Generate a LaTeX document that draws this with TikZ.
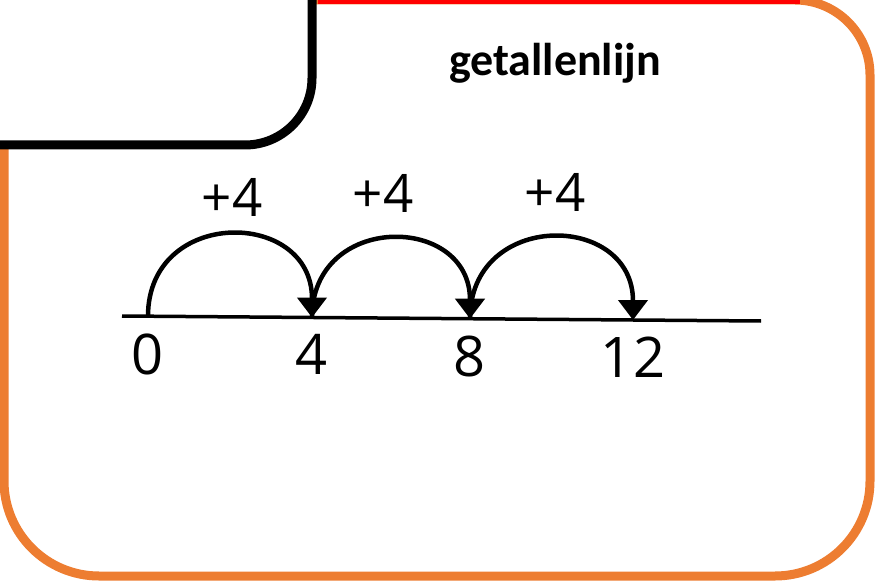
\documentclass[tikz,border=0pt]{standalone}
\usepackage{fontspec}
\usepackage{xcolor}
\usetikzlibrary{positioning,arrows.meta}
\newfontfamily\numfont{Open Sans}
\newfontfamily\titlefont{Carlito}
\definecolor{boxorange}{HTML}{ED7D31}
\tikzset{>={Triangle[width=29pt,length=20pt]}}

\begin{document}
\begin{tikzpicture}[x=1pt,y=-1pt,
    frame/.style={draw=boxorange,line width=9pt},
    topline/.style={draw=red,line width=9pt},
    tab/.style={draw=black,line width=9pt,fill=white},
    axis/.style={draw,line width=3.5pt},
    jump/.style={draw,line width=4.5pt,->},
    num/.style={inner sep=0pt,font=\numfont\fontsize{56}{60}\selectfont},
    jumplabel/.style={inner sep=0pt,font=\numfont\fontsize{53}{56}\selectfont},
    heading/.style={inner sep=0pt,font=\titlefont\bfseries\fontsize{46}{50}\selectfont}
  ]
      \useasboundingbox (0,0) rectangle (885,585);

      \draw[frame] (4,140) -- (4,481) arc[start angle=180,end angle=90,radius=95]
        -- (775,576) arc[start angle=90,end angle=0,radius=95]
        -- (870,75) arc[start angle=0,end angle=-90,radius=75] -- (300,0);
      \draw[topline] (318,0) -- (800,0);
      \draw[tab] (-10,-10) -- (312,-10) -- (312,78)
        arc[start angle=0,end angle=90,radius=67] -- (-10,145) -- cycle;

      \node [heading] (title) at (555,63) {getallenlijn};

      \coordinate (start) at (122,316);
      \coordinate (stop) at (761,321);
      \coordinate (n0) at (148,316.2);
      \coordinate (n4) at (312,317.5);
      \coordinate (n8) at (470,318.7);
      \coordinate (n12) at (633,320);

      \draw[axis] (start) -- (stop);

      \node [num,
        below=17pt of n0
      ] (l0) {0};
      \node [num,
        below=17pt of n4
      ] (l4) {4};
      \node [num,
        below=17pt of n8
      ] (l8) {8};
      \node [num,
        below=17pt of n12
      ] (l12) {12};

      \draw[jump] (n0) to[out=90,in=90,looseness=1.7] (n4);
      \draw[jump] (n4) to[out=90,in=90,looseness=1.7] (n8);
      \draw[jump] (n8) to[out=90,in=90,looseness=1.7] (n12);

      \node [jumplabel] (j1) at (232,197) {+4};
      \node [jumplabel] (j2) at (383,193) {+4};
      \node [jumplabel] (j3) at (555,192) {+4};
    \end{tikzpicture}
\end{document}
